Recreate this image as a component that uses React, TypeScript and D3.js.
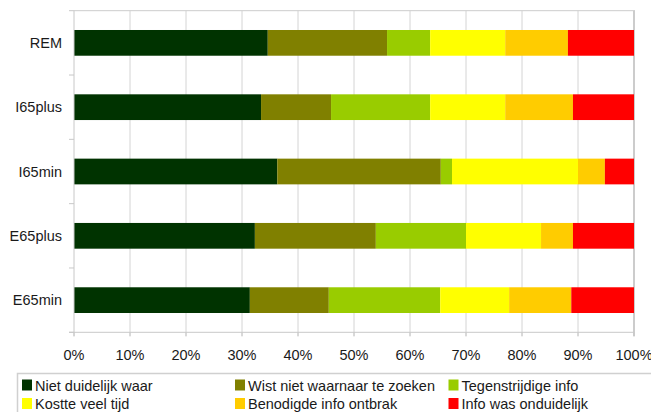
import { useMemo } from "react";
import * as d3 from "d3";

const WIDTH = 651;
const HEIGHT = 412;
const MARGIN = { top: 10.7, right: 17, bottom: 80, left: 74 };

// categories, top to bottom
const categories = ["REM", "I65plus", "I65min", "E65plus", "E65min"];

// series values (percent), one entry per category
const nietDuidelijkWaar = [34.6, 33.4, 36.3, 32.3, 31.4];
const wistNietWaarnaar = [21.3, 12.5, 29.2, 21.6, 14.1];
const tegenstrijdigeInfo = [7.7, 17.7, 2.0, 16.1, 19.9];
const kostteVeelTijd = [13.4, 13.4, 22.5, 13.4, 12.3];
const benodigdeInfoOntbrak = [11.2, 12.1, 4.8, 5.7, 11.1];
const infoOnduidelijk = [11.8, 10.9, 5.2, 10.9, 11.2];

const seriesNames = [
  "Niet duidelijk waar",
  "Wist niet waarnaar te zoeken",
  "Tegenstrijdige info",
  "Kostte veel tijd",
  "Benodigde info ontbrak",
  "Info was onduidelijk",
];
const seriesValues = [
  nietDuidelijkWaar,
  wistNietWaarnaar,
  tegenstrijdigeInfo,
  kostteVeelTijd,
  benodigdeInfoOntbrak,
  infoOnduidelijk,
];
const colors = ["#003300", "#808000", "#99cc00", "#ffff00", "#ffcc00", "#ff0000"];

const xTicks = [0, 10, 20, 30, 40, 50, 60, 70, 80, 90, 100];

const FONT = "'Liberation Sans', Arial, Helvetica, sans-serif";
const GRID = "#d4d4d4";
const TEXT = "#1a1a1a";

export default function App() {
  const boundsWidth = WIDTH - 17 - MARGIN.left;
  const plotRight = 634;
  const plotBottom = 332.3;

  // build rows for the stack
  const rows = useMemo(
    () =>
      categories.map((c, i) => {
        const row: Record<string, any> = { cat: c };
        seriesNames.forEach((s, j) => (row[s] = seriesValues[j][i]));
        return row;
      }),
    []
  );

  const stacked = d3.stack<any>().keys(seriesNames)(rows);

  const xScale = d3.scaleLinear().domain([0, 100]).range([MARGIN.left, plotRight]);
  const yScale = d3
    .scaleBand()
    .domain(categories)
    .range([MARGIN.top, plotBottom])
    .paddingInner(0.6)
    .paddingOuter(0.3);

  const step = yScale.step();
  const bandEdges = d3.range(categories.length + 1).map((k) => MARGIN.top + k * step);

  // legend layout
  const legendTop = 373.5;
  const legendCols = [22, 235, 448.5];
  const legendRows = [385.5, 404];

  return (
    <svg
      width={WIDTH}
      height={HEIGHT}
      style={{ position: "absolute", left: 0, top: 0, background: "#fff" }}
      fontFamily={FONT}
    >
      {/* grid */}
      {xTicks.slice(1, -1).map((t) => (
        <line
          key={"g" + t}
          x1={xScale(t)}
          x2={xScale(t)}
          y1={MARGIN.top}
          y2={plotBottom + 4}
          stroke={GRID}
          strokeWidth={1}
        />
      ))}
      {/* frame top and right */}
      <line x1={MARGIN.left} x2={plotRight + 1} y1={MARGIN.top} y2={MARGIN.top} stroke="#cccccc" strokeWidth={1} />
      <line x1={plotRight} x2={plotRight} y1={MARGIN.top} y2={plotBottom + 4} stroke="#cccccc" strokeWidth={2} />

      {/* bars */}
      {stacked.map((layer, j) => (
        <g key={layer.key} fill={colors[j]}>
          {layer.map((d, i) => (
            <rect
              key={i}
              x={xScale(d[0])}
              width={xScale(d[1]) - xScale(d[0])}
              y={yScale(categories[i])}
              height={yScale.bandwidth()}
            />
          ))}
        </g>
      ))}

      {/* left axis */}
      <line x1={MARGIN.left} x2={MARGIN.left} y1={MARGIN.top} y2={plotBottom + 4} stroke="#c8c8c8" strokeWidth={1} />
      {bandEdges.map((y, k) => (
        <line key={"yt" + k} x1={MARGIN.left - 5} x2={MARGIN.left} y1={y} y2={y} stroke="#c8c8c8" strokeWidth={1} />
      ))}
      {categories.map((c) => (
        <text
          key={c}
          x={62}
          y={(yScale(c) ?? 0) + yScale.bandwidth() / 2}
          textAnchor="end"
          dominantBaseline="central"
          fontSize={14.5}
          fill={TEXT}
        >
          {c}
        </text>
      ))}

      {/* bottom axis */}
      <line x1={MARGIN.left - 5} x2={plotRight} y1={plotBottom} y2={plotBottom} stroke="#c8c8c8" strokeWidth={1} />
      {xTicks.map((t) => (
        <g key={"xt" + t}>
          <line x1={xScale(t)} x2={xScale(t)} y1={plotBottom} y2={plotBottom + 4} stroke="#c8c8c8" strokeWidth={1} />
          <text
            x={xScale(t)}
            y={355}
            textAnchor="middle"
            dominantBaseline="central"
            fontSize={14.5}
            fill={TEXT}
          >
            {t + "%"}
          </text>
        </g>
      ))}

      {/* legend */}
      <rect x={17.5} y={legendTop} width={660} height={60} fill="none" stroke="#d0d0d0" strokeWidth={1.5} />
      {seriesNames.map((s, j) => {
        const col = j % 3;
        const row = Math.floor(j / 3);
        const cy = legendRows[row];
        return (
          <g key={s}>
            <rect x={legendCols[col]} y={cy - 6} width={10} height={11} fill={colors[j]} />
            <text
              x={legendCols[col] + 13}
              y={cy}
              dominantBaseline="central"
              fontSize={14.5}
              fill={TEXT}
            >
              {s}
            </text>
          </g>
        );
      })}
    </svg>
  );
}
